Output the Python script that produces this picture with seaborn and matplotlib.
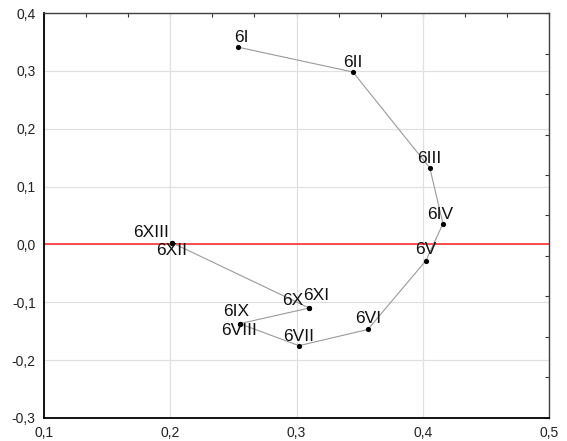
import matplotlib
matplotlib.use("Agg")
import matplotlib.pyplot as plt
import numpy as np
import pandas as pd
import seaborn as sns

# Trajectory of the series 6I..6XIII
labels = ["6I", "6II", "6III", "6IV", "6V", "6VI", "6VII",
          "6VIII", "6IX", "6X", "6XI", "6XII", "6XIII"]
x_vals = [0.2536, 0.3447, 0.4056, 0.4160, 0.4025, 0.3565, 0.3020,
          0.2550, 0.2550, 0.3100, 0.3100, 0.2013, 0.2013]
y_vals = [0.341, 0.298, 0.132, 0.036, -0.028, -0.147, -0.175,
          -0.137, -0.137, -0.110, -0.110, 0.003, 0.003]

x_ticks = [0.1, 0.2, 0.3, 0.4, 0.5]
x_tick_labels = ["0,1", "0,2", "0,3", "0,4", "0,5"]
y_ticks = [-0.3, -0.2, -0.1, 0.0, 0.1, 0.2, 0.3, 0.4]
y_tick_labels = ["-0,3", "-0,2", "-0,1", "0,0", "0,1", "0,2", "0,3", "0,4"]

# label placement (pixel offsets of the text centre from its point)
label_offsets = {
    "6I": (3, 10), "6II": (0, 10), "6III": (-1, 10), "6IV": (-3, 9),
    "6V": (0, 11), "6VI": (0, 11), "6VII": (0, 9), "6VIII": (-1, -7),
    "6IX": (-4, 12), "6X": (-16, 8), "6XI": (7, 13), "6XII": (0, -8),
    "6XIII": (-21, 10),
}

df = pd.DataFrame({"x": x_vals, "y": y_vals, "label": labels})

sns.set_style("white")
plt.rcParams["font.family"] = ["Liberation Sans", "DejaVu Sans"]

fig = plt.figure(figsize=(5.67, 4.41), dpi=100)
ax = fig.add_axes([0.0776, 0.0522, 0.8907, 0.9183])

ax.grid(True, color="#e0e0e0", linewidth=0.9, zorder=0)
ax.axhline(0.0, color="#ff3030", linewidth=1.2, zorder=1)

sns.lineplot(data=df, x="x", y="y", sort=False, estimator=None,
             color="#9a9a9a", linewidth=0.8, ax=ax, zorder=2)
sns.scatterplot(data=df, x="x", y="y", color="black", s=14,
                edgecolor="black", linewidth=0, ax=ax, zorder=3)

px2pt = 72 / 100
for lab, xv, yv in zip(labels, x_vals, y_vals):
    dx, dy = label_offsets[lab]
    ax.annotate(lab, (xv, yv), xytext=(dx * px2pt, dy * px2pt),
                textcoords="offset points", ha="center", va="center",
                fontsize=12.5, color="#111111", zorder=4)

ax.set_xlim(0.1, 0.5)
ax.set_ylim(-0.3, 0.4)
ax.set_xticks(x_ticks)
ax.set_xticklabels(x_tick_labels)
ax.set_yticks(y_ticks)
ax.set_yticklabels(y_tick_labels)
ax.set_xlabel("")
ax.set_ylabel("")
ax.tick_params(axis="x", direction="in", length=3, width=0.8,
               labelsize=10, pad=6, color="#333333", labelcolor="#222222")
ax.tick_params(axis="y", direction="out", length=3, width=0.8,
               labelsize=10, pad=3, color="#333333", labelcolor="#222222")

for side in ["left", "bottom"]:
    ax.spines[side].set_color("black")
    ax.spines[side].set_linewidth(1.3)
for side in ["top", "right"]:
    ax.spines[side].set_visible(True)
    ax.spines[side].set_color("#404040")
    ax.spines[side].set_linewidth(1.0)

# secondary scales along the top and right edges
top = ax.secondary_xaxis("top")
top.set_xticks(np.linspace(0.1, 0.5, 13))
top.set_xticklabels([])
top.tick_params(direction="in", length=3, width=0.8, color="#333333")
top.spines["top"].set_visible(False)
right = ax.secondary_yaxis("right")
right.set_yticks(np.linspace(-0.3, 0.4, 11))
right.set_yticklabels([])
right.tick_params(direction="in", length=3, width=0.8, color="#333333")
right.spines["right"].set_visible(False)

fig.savefig("out.png", dpi=100)
